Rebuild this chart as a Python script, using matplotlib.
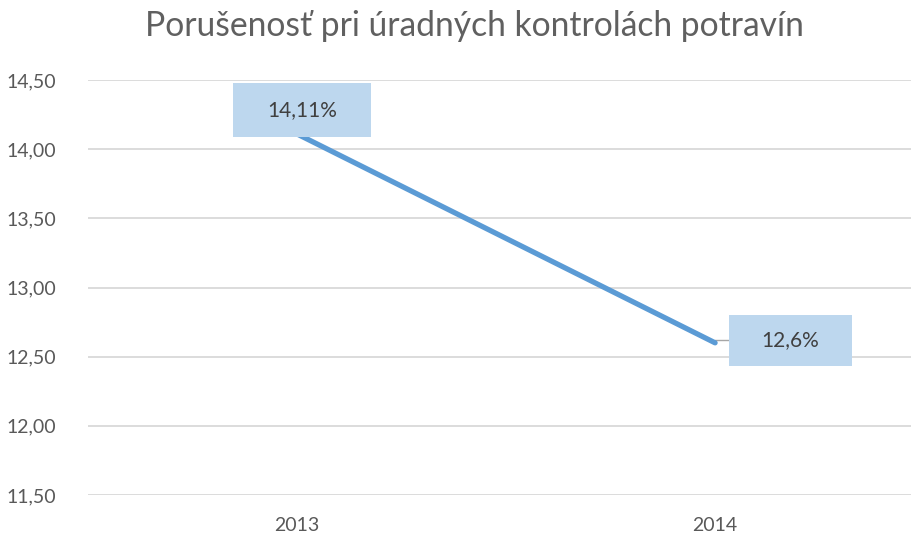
import matplotlib
matplotlib.use("Agg")
import matplotlib.pyplot as plt
from matplotlib.patches import Rectangle
from matplotlib.transforms import IdentityTransform, ScaledTranslation
from matplotlib.ticker import FuncFormatter

years = ["2013", "2014"]
values = [14.11, 12.6]
value_labels = ["14,11%", "12,6%"]
title = "Porušenosť pri úradných kontrolách potravín"
yticks = [11.5, 12.0, 12.5, 13.0, 13.5, 14.0, 14.5]

plt.rcParams['font.family'] = ['Lato', 'DejaVu Sans']

W, H = 912, 536
fig = plt.figure(figsize=(W / 100, H / 100), dpi=100)
ax = fig.add_axes([88 / W, (H - 495) / H, (912 - 88) / W, (495 - 80) / H])

x = list(range(len(years)))
ax.plot(x, values, color="#5B9BD5", linewidth=3.8, solid_capstyle="round", zorder=3)

ax.set_ylim(11.5, 14.5)
ax.set_xlim(-0.5, 1.471)
ax.set_yticks(yticks)
ax.yaxis.set_major_formatter(FuncFormatter(lambda v, p: f"{v:.2f}".replace(".", ",")))
ax.set_xticks(x)
ax.set_xticklabels(years)
ax.grid(axis="y", color="#D9D9D9", linewidth=1.3)
ax.set_axisbelow(True)
for s in ax.spines.values():
    s.set_visible(False)
ax.tick_params(axis="both", length=0, labelsize=14, colors="#595959")
ax.tick_params(axis="y", pad=23)
ax.tick_params(axis="x", pad=16)

fig.suptitle(title, x=474 / W, y=1 - 26 / H, va="center", fontsize=24.2,
             color="#606060")

# label boxes: (dx, dy, w, h) offsets in pixels from data point
box_specs = [(5, 24, 138, 54), (75, 2.5, 123, 51)]
for xi, v, lab, (dx, dy, bw, bh) in zip(x, values, value_labels, box_specs):
    tr = IdentityTransform() + ScaledTranslation(xi, v, ax.transData)
    if dx > bw / 2:
        ax.plot([0, dx - bw / 2], [dy, dy], transform=tr, color="#A6A6A6", linewidth=1, zorder=2, clip_on=False)
    ax.add_patch(Rectangle((dx - bw / 2, dy - bh / 2), bw, bh, transform=tr,
                           facecolor="#BDD7EE", edgecolor="none", zorder=4, clip_on=False))
    ax.annotate(lab, xy=(xi, v), xytext=(dx, dy), textcoords="offset pixels",
                ha="center", va="center", fontsize=15, color="#404040", zorder=5)

fig.savefig("out.png", dpi=100)
